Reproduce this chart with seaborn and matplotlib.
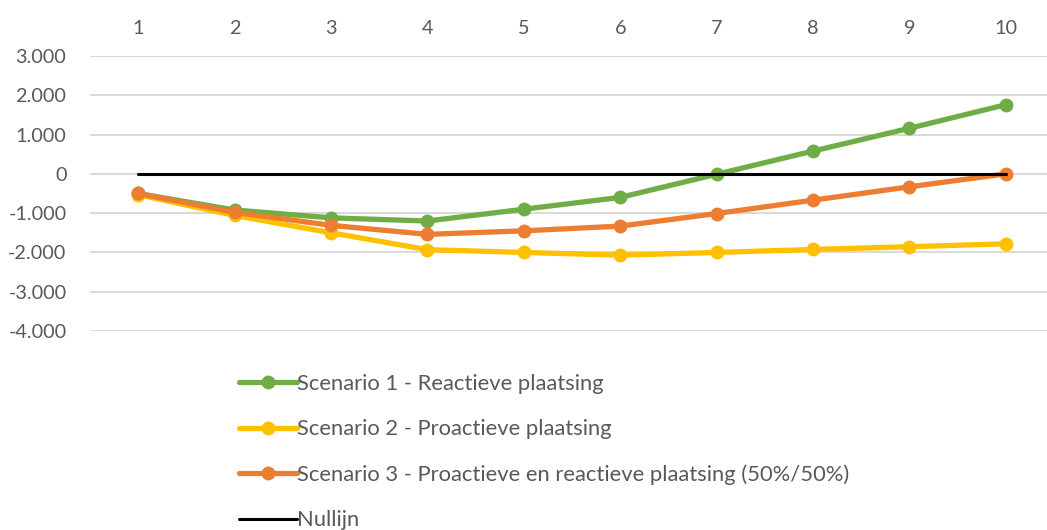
import matplotlib
matplotlib.use("Agg")
import matplotlib.pyplot as plt
import seaborn as sns
import pandas as pd
from matplotlib.ticker import FuncFormatter
from matplotlib.lines import Line2D

years = [1, 2, 3, 4, 5, 6, 7, 8, 9, 10]
scenario1 = [-500, -920, -1120, -1200, -900, -600, -10, 580, 1160, 1760]
scenario2 = [-530, -1060, -1500, -1930, -2000, -2070, -2000, -1925, -1855, -1780]
scenario3 = [-500, -980, -1310, -1540, -1450, -1330, -1010, -670, -330, 0]
nullijn = [0, 0, 0, 0, 0, 0, 0, 0, 0, 0]

labels = [
    "Scenario 1 - Reactieve plaatsing",
    "Scenario 2 - Proactieve plaatsing",
    "Scenario 3 - Proactieve en reactieve plaatsing (50%/50%)",
    "Nullijn",
]
colors = ["#70AD47", "#FFC000", "#ED7D31", "#000000"]
yticks = [-4000, -3000, -2000, -1000, 0, 1000, 2000, 3000]

sns.set_style("white")
plt.rcParams["font.family"] = ["Lato", "DejaVu Sans"]

W, H = 1047, 530
fig = plt.figure(figsize=(W / 100, H / 100), dpi=100)
left, right = 90, 1054
top, bottom = 56, 331
ax = fig.add_axes([left / W, 1 - bottom / H, (right - left) / W, (bottom - top) / H])

series = [scenario1, scenario2, scenario3]
for vals, lab, col in zip(series, labels[:3], colors[:3]):
    df = pd.DataFrame({"jaar": years, "waarde": vals})
    sns.lineplot(data=df, x="jaar", y="waarde", ax=ax, color=col, linewidth=3.8,
                 marker="o", markersize=10, markeredgewidth=0, zorder=3,
                 solid_capstyle="round")
df0 = pd.DataFrame({"jaar": years, "waarde": nullijn})
sns.lineplot(data=df0, x="jaar", y="waarde", ax=ax, color="black", linewidth=2.2, zorder=4)

ax.set_xlim(0.5, 10.5)
ax.set_ylim(-4000, 3000)
ax.set_yticks(yticks)
ax.set_xticks(years)
ax.xaxis.tick_top()
ax.yaxis.set_major_formatter(FuncFormatter(lambda v, p: f"{int(v):,}".replace(",", ".")))
ax.grid(axis="y", color="#D9D9D9", linewidth=1.4, zorder=0)
ax.grid(axis="x", visible=False)
for s in ax.spines.values():
    s.set_visible(False)
ax.tick_params(axis="both", length=0, labelsize=14.3, colors="#595959")
ax.tick_params(axis="y", pad=17)
ax.tick_params(axis="x", pad=14)
ax.set_xlabel("")
ax.set_ylabel("")

handles = [Line2D([], [], color=c, linewidth=3.8, marker="o", markersize=10, markeredgewidth=0)
           for c in colors[:3]]
handles.append(Line2D([], [], color="black", linewidth=2.2))
leg = fig.legend(handles, labels, loc="upper left", bbox_to_anchor=(239 / W, 1 - 374 / H),
                 frameon=False, fontsize=15.8, handlelength=2.64, handletextpad=0.0,
                 labelspacing=1.15, borderpad=0, borderaxespad=0)
for t in leg.get_texts():
    t.set_color("#595959")

fig.savefig("out.png", dpi=100)
